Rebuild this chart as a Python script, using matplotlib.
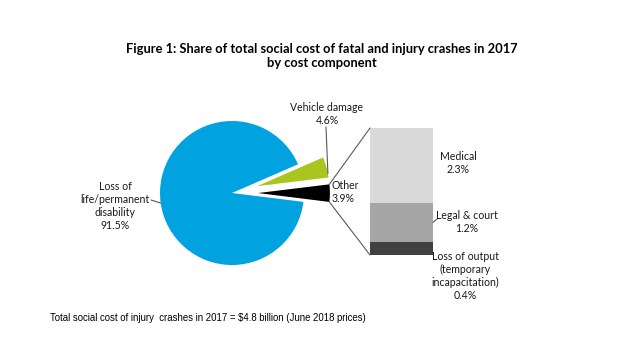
import numpy as np
import matplotlib.pyplot as plt
from matplotlib.patches import ConnectionPatch

# === DATA ===
pie_labels = ['Loss of\nlife/permanent\ndisability', 'Vehicle damage', 'Other']
pie_values = [91.5, 4.6, 3.9]
pie_colors = ['#00A3E0', '#A9C51E', '#000000']

bar_labels = ['Loss of output\n(temporary\nincapacitation)', 'Legal & court', 'Medical']
bar_values = [0.4, 1.2, 2.3]
bar_colors = ['#404040', '#A6A6A6', '#D9D9D9']

TITLE = 'Figure 1: Share of total social cost of fatal and injury crashes in 2017\nby cost component'
NOTE = 'Total social cost of injury  crashes in 2017 = $4.8 billion (June 2018 prices)'

W, H = 640, 359
BODY = 'Lato'
LINE = '#595959'


def px(x, y):
    # pixel position (from top-left) -> figure fraction
    return x / W, 1 - y / H


fig = plt.figure(figsize=(W / 100, H / 100), dpi=100)
fig.patch.set_facecolor('white')

# === PIE ===
R = 72
box = 200
ax_pie = fig.add_axes([(232 - box / 2) / W, (H - 193 - box / 2) / H, box / W, box / H])
wedges, _ = ax_pie.pie(pie_values, colors=pie_colors, startangle=-7.1, counterclock=False,
                       explode=[0, 0.36, 0.36], radius=1,
                       wedgeprops=dict(linewidth=0))
lim = box / 2 / R
ax_pie.set_xlim(-lim, lim)
ax_pie.set_ylim(-lim, lim)
ax_pie.set_aspect('equal')
ax_pie.axis('off')

# === STACKED BAR ===
ax_bar = fig.add_axes([370 / W, (H - 255) / H, 63 / W, 127 / H])
bottom = 0
for val, col in zip(bar_values, bar_colors):
    ax_bar.bar(0, val, bottom=bottom, width=1, color=col, linewidth=0)
    bottom += val
ax_bar.set_xlim(-0.5, 0.5)
ax_bar.set_ylim(0, sum(bar_values))
ax_bar.axis('off')

# === CONNECTORS from "Other" wedge to bar ===
other = wedges[2]
cx, cy = other.center
for ang, ybar in [(other.theta2, sum(bar_values)), (other.theta1, 0)]:
    a = np.deg2rad(ang)
    con = ConnectionPatch(xyA=(cx + np.cos(a), cy + np.sin(a)), coordsA=ax_pie.transData,
                          xyB=(-0.5, ybar), coordsB=ax_bar.transData,
                          color=LINE, linewidth=0.8)
    fig.add_artist(con)

# === LABELS ===
txt = dict(fontsize=7.6, family=BODY, color='#1a1a1a', linespacing=1.25)

fig.text(*px(115, 206), pie_labels[0] + f'\n{pie_values[0]}%', ha='center', va='center', **txt)
fig.text(*px(327, 114), pie_labels[1] + f'\n{pie_values[1]}%', ha='center', va='center', **txt)
fig.text(*px(332, 192), pie_labels[2] + f'\n{pie_values[2]}%', ha='left', va='center', **txt)

# leader lines
a = np.deg2rad(188)
ax_pie.annotate('', xy=(np.cos(a), np.sin(a)), xycoords='data',
                xytext=px(151, 200), textcoords='figure fraction',
                arrowprops=dict(arrowstyle='-', color=LINE, lw=0.8, shrinkA=0, shrinkB=0))
green = wedges[1]
gx, gy = green.center
a = np.deg2rad(10)
ax_pie.annotate('', xy=(gx + np.cos(a), gy + np.sin(a)), xycoords='data',
                xytext=px(326, 127), textcoords='figure fraction',
                arrowprops=dict(arrowstyle='-', color=LINE, lw=0.8, shrinkA=0, shrinkB=0))

fig.text(*px(458, 163), bar_labels[2] + f'\n{bar_values[2]}%', ha='center', va='center', **txt)
fig.text(*px(467, 222), bar_labels[1] + f'\n{bar_values[1]}%', ha='center', va='center', **txt)
fig.text(*px(465, 276), bar_labels[0] + f'\n{bar_values[0]}%', ha='center', va='center', **txt)
ax_bar.annotate('', xy=(0.5, bar_values[0] + bar_values[1] / 2), xycoords='data',
                xytext=px(437, 219), textcoords='figure fraction',
                arrowprops=dict(arrowstyle='-', color=LINE, lw=0.8, shrinkA=0, shrinkB=0))

# === TITLE & NOTE ===
fig.text(*px(322, 56), TITLE, ha='center', va='center', fontsize=9.3, family=BODY,
         fontweight='bold', color='black', linespacing=1.25)
fig.text(*px(50, 318), NOTE, ha='left', va='center', fontsize=6.9, family='Liberation Sans',
         color='black')

fig.savefig('out.png', dpi=100)
